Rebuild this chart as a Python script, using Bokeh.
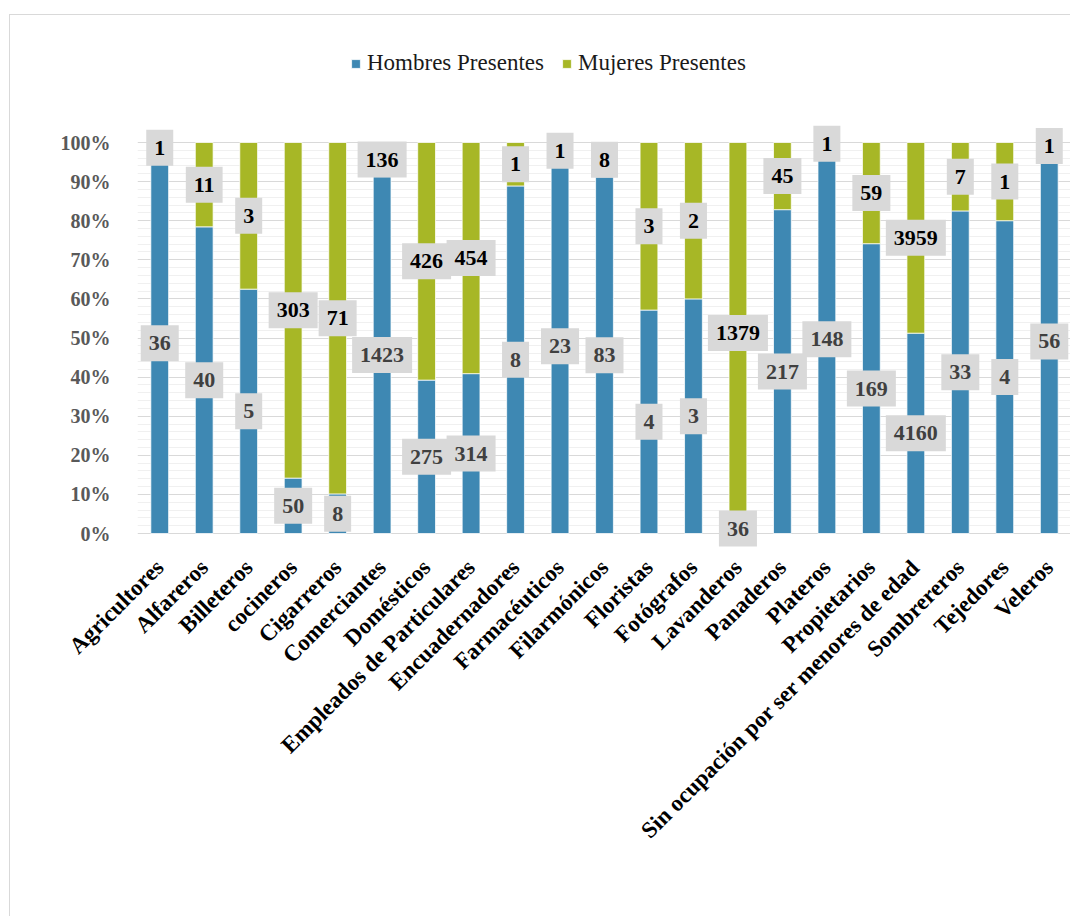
from bokeh.plotting import figure
from bokeh.models import (ColumnDataSource, FactorRange, Range1d, FixedTicker,
                          NumeralTickFormatter, Legend, LegendItem)
from bokeh.core.properties import value
from bokeh.embed import file_html
from bokeh.resources import INLINE

# Occupations and head counts by sex
categories = [
    "Agricultores", "Alfareros", "Billeteros", "cocineros", "Cigarreros",
    "Comerciantes", "Domésticos", "Empleados de Particulares", "Encuadernadores",
    "Farmacéuticos", "Filarmónicos", "Floristas", "Fotógrafos", "Lavanderos",
    "Panaderos", "Plateros", "Propietarios",
    "Sin ocupación por ser menores de edad", "Sombrereros", "Tejedores", "Veleros",
]
hombres = [36, 40, 5, 50, 8, 1423, 275, 314, 8, 23, 83, 4, 3, 36, 217, 148, 169, 4160, 33, 4, 56]
mujeres = [1, 11, 3, 303, 71, 136, 426, 454, 1, 1, 8, 3, 2, 1379, 45, 1, 59, 3959, 7, 1, 1]

series_names = ["Hombres Presentes", "Mujeres Presentes"]
y_ticks = [0.0, 0.1, 0.2, 0.3, 0.4, 0.5, 0.6, 0.7, 0.8, 0.9, 1.0]

BLUE = "#3E88B3"
GREEN = "#A7B726"
SERIF = "Liberation Serif"

# 100% stacking
h_share = [h / (h + m) for h, m in zip(hombres, mujeres)]
m_share = [m / (h + m) for h, m in zip(hombres, mujeres)]

src = ColumnDataSource(dict(
    cat=categories,
    h_top=h_share,
    m_bottom=h_share,
    m_top=[hs + ms for hs, ms in zip(h_share, m_share)],
    h_mid=[hs / 2 for hs in h_share],
    m_mid=[hs + ms / 2 for hs, ms in zip(h_share, m_share)],
    h_lab=[str(v) for v in hombres],
    m_lab=[str(v) for v in mujeres],
))

# 391 px per 100 %; the frame reaches above the bars so the legend and the
# topmost value boxes are not clipped, and a little below zero for the boxes there
PX = 391.0
p = figure(
    x_range=FactorRange(*categories, range_padding=0),
    y_range=Range1d(-20 / PX, 513 / PX),
    width=1061, height=902,
    min_border_left=127, min_border_right=0,
    min_border_top=5, min_border_bottom=364,
    output_backend="svg", toolbar_location=None,
)
p.margin = (14, 0, 0, 9)
p.styles = {"border-top": "1px solid #D9D9D9", "border-left": "1px solid #D9D9D9"}
p.outline_line_color = None
p.background_fill_color = "white"
p.border_fill_color = "white"

rh = p.vbar(x="cat", width=0.4, bottom=0, top="h_top", source=src,
            fill_color=BLUE, line_color="white", line_width=0.75)
rm = p.vbar(x="cat", width=0.4, bottom="m_bottom", top="m_top", source=src,
            fill_color=GREEN, line_color="white", line_width=0.75)

# value labels in grey boxes
box_pad = dict(x=8, y=11)
p.text(x="cat", y="h_mid", text="h_lab", source=src,
       text_font=value(SERIF), text_font_style="bold", text_font_size="22px",
       text_color="#404040", text_align="center", text_baseline="middle",
       background_fill_color="#D9D9D9", padding=box_pad)
p.text(x="cat", y="m_mid", text="m_lab", source=src,
       text_font=value(SERIF), text_font_style="bold", text_font_size="22px",
       text_color="black", text_align="center", text_baseline="middle",
       background_fill_color="#D9D9D9", padding=box_pad)

# axes and grid
ticker = FixedTicker(ticks=y_ticks,
                     minor_ticks=[t / 50 for t in range(51) if t % 5])
p.yaxis.ticker = ticker
p.ygrid.ticker = ticker
p.ygrid.grid_line_color = "#D9D9D9"
p.ygrid.grid_line_width = 1
p.ygrid.minor_grid_line_color = "#F0F0F0"
p.ygrid.minor_grid_line_width = 1
p.xgrid.grid_line_color = None

p.yaxis.formatter = NumeralTickFormatter(format="0%")
p.yaxis.axis_line_color = None
p.yaxis.major_tick_line_color = None
p.yaxis.minor_tick_line_color = None
p.yaxis.major_label_standoff = 21
p.yaxis.major_label_text_font = SERIF
p.yaxis.major_label_text_font_style = "bold"
p.yaxis.major_label_text_font_size = "20px"
p.yaxis.major_label_text_color = "#595959"

p.xaxis.axis_line_color = None
p.xaxis.major_tick_line_color = None
p.xaxis.major_label_orientation = 0.785398
p.xaxis.major_label_standoff = 4
p.xaxis.major_label_text_font = SERIF
p.xaxis.major_label_text_font_style = "bold"
p.xaxis.major_label_text_font_size = "23px"
p.xaxis.major_label_text_color = "black"

legend = Legend(
    items=[LegendItem(label=series_names[0], renderers=[rh]),
           LegendItem(label=series_names[1], renderers=[rm])],
    orientation="horizontal", location=(213, 477),
    padding=0, margin=0, spacing=17, label_standoff=6,
    glyph_width=11, glyph_height=11, label_height=24,
    label_text_font=SERIF, label_text_font_size="23px", label_text_color="#1A1A1A",
    border_line_color=None, background_fill_alpha=0,
)
p.add_layout(legend, "center")

open("out.html", "w").write(file_html(p, INLINE))
